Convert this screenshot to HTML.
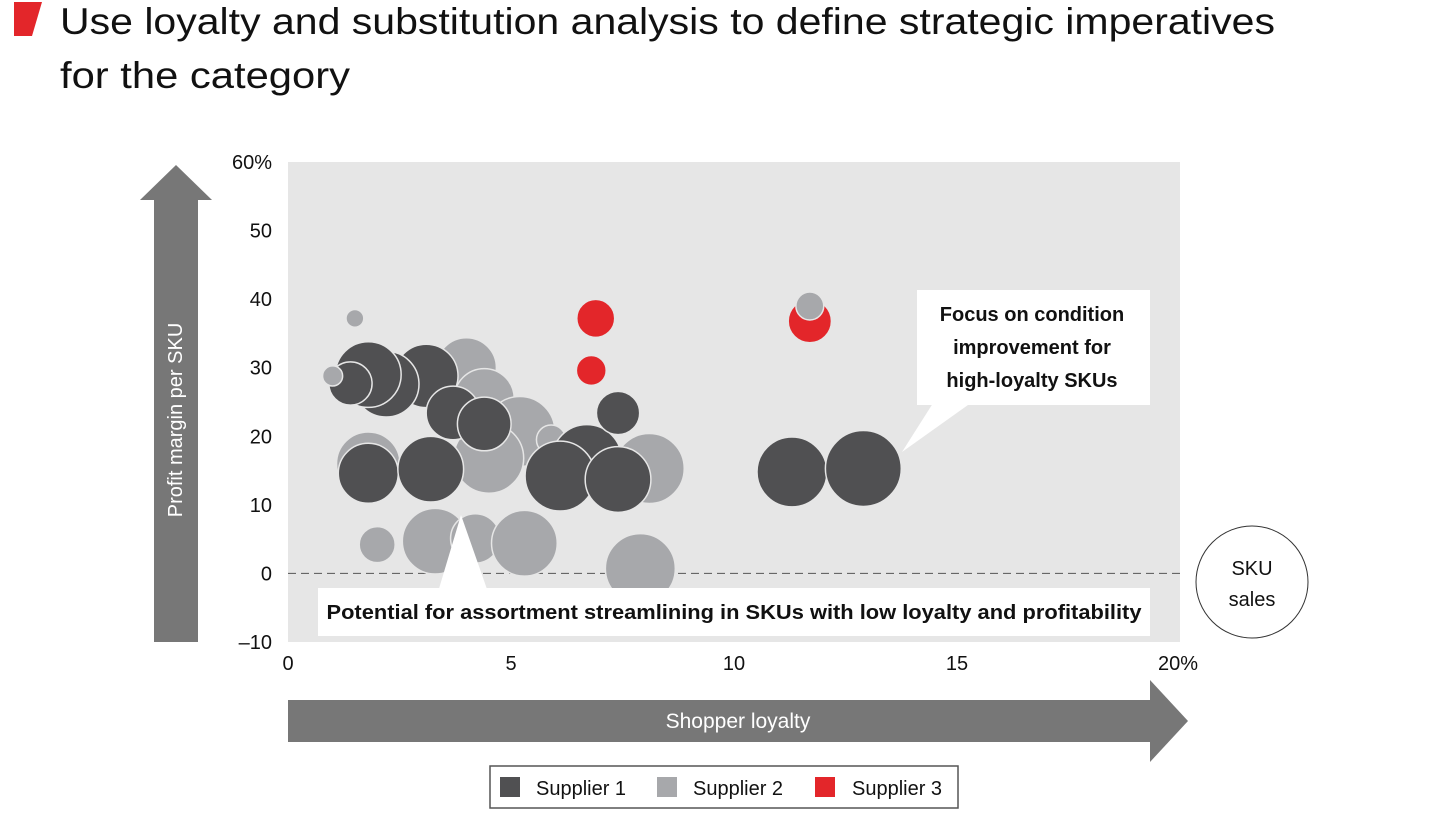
<!DOCTYPE html>
<html><head><meta charset="utf-8"><style>
body{margin:0;background:#fff;width:1440px;height:810px;overflow:hidden;font-family:"Liberation Sans",sans-serif}
</style></head><body>
<svg id="chart" width="1440" height="810" viewBox="0 0 1440 810" xmlns="http://www.w3.org/2000/svg">
<polygon points="14,2 42,2 32,36 14,36" fill="#e3262a"/>
<text x="60" y="34" font-size="37" fill="#111" textLength="1215" lengthAdjust="spacingAndGlyphs">Use loyalty and substitution analysis to define strategic imperatives</text>
<text x="60" y="88" font-size="37" fill="#111" textLength="290" lengthAdjust="spacingAndGlyphs">for the category</text>
<rect x="288" y="162" width="892" height="480" fill="#e6e6e6"/>
<g id="yticks"></g>
<g id="xticks"></g>
<line id="zero" x1="288" x2="1180" stroke="#555" stroke-width="1" stroke-dasharray="8,5"/>
<g id="bubbles"></g>
<g>
<polygon points="935,400 975,400 902,452" fill="#fff"/>
<rect x="917" y="290" width="233" height="115" fill="#fff"/>
<text x="1032" y="321" font-size="20" font-weight="bold" text-anchor="middle" fill="#111">Focus on condition</text>
<text x="1032" y="354" font-size="20" font-weight="bold" text-anchor="middle" fill="#111">improvement for</text>
<text x="1032" y="387" font-size="20" font-weight="bold" text-anchor="middle" fill="#111">high-loyalty SKUs</text>
</g>
<g>
<polygon points="438,592 488,592 461,515" fill="#fff"/>
<rect x="318" y="588" width="832" height="48" fill="#fff"/>
<text x="734" y="619" font-size="20" font-weight="bold" text-anchor="middle" fill="#111" textLength="815" lengthAdjust="spacingAndGlyphs">Potential for assortment streamlining in SKUs with low loyalty and profitability</text>
</g>
<g>
<rect x="154" y="198" width="44" height="444" fill="#777"/>
<polygon points="140,200 176,165 212,200" fill="#777"/>
<text transform="translate(182,420) rotate(-90)" font-size="20" fill="#fff" text-anchor="middle">Profit margin per SKU</text>
</g>
<g>
<rect x="288" y="700" width="864" height="42" fill="#777"/>
<polygon points="1150,680 1188,721 1150,762" fill="#777"/>
<text x="738" y="728" font-size="21" fill="#fff" text-anchor="middle">Shopper loyalty</text>
</g>
<g>
<circle cx="1252" cy="582" r="56" fill="#fff" stroke="#333" stroke-width="1"/>
<text x="1252" y="575" font-size="20" text-anchor="middle" fill="#111">SKU</text>
<text x="1252" y="606" font-size="20" text-anchor="middle" fill="#111">sales</text>
</g>
<g>
<rect x="490" y="766" width="468" height="42" fill="#fff" stroke="#555" stroke-width="1.5"/>
<rect x="500" y="777" width="20" height="20" fill="#505052"/>
<text x="536" y="795" font-size="20" fill="#111">Supplier 1</text>
<rect x="657" y="777" width="20" height="20" fill="#a7a8ab"/>
<text x="693" y="795" font-size="20" fill="#111">Supplier 2</text>
<rect x="815" y="777" width="20" height="20" fill="#e3262a"/>
<text x="852" y="795" font-size="20" fill="#111">Supplier 3</text>
</g>
</svg>
<script>
const yTickValues=[60,50,40,30,20,10,0,-10];
const yTickLabels=["60%","50","40","30","20","10","0","\u201310"];
const xTickValues=[0,5,10,15,20];
const xTickLabels=["0","5","10","15","20%"];
const s2Loyalty=[4.0,4.4,5.2,4.5,1.8,8.1,5.9,2.0,3.3,4.2,5.3,7.9,1.5,1.0,11.7];
const s2Margin=[30,25.5,20.7,16.8,16,15.3,19.5,4.2,4.7,5.1,4.4,0.7,37.2,28.8,39];
const s2Sales=[25,25,34,34,28,34,6,9,30,17,30,34,2.2,2.8,5.4];
const s1Loyalty=[3.1,2.2,1.8,1.4,3.7,4.4,1.8,3.2,6.7,6.1,7.4,7.4,11.3,12.9];
const s1Margin=[28.8,27.6,29,27.7,23.4,21.8,14.6,15.2,16.6,14.2,13.7,23.4,14.8,15.3];
const s1Sales=[28,30,30,13,20,20,25,30,34,34,30,13,34,40];
const s3Loyalty=[6.9,6.8,11.7];
const s3Margin=[37.2,29.6,36.8];
const s3Sales=[10,6.2,13];
const NS='http://www.w3.org/2000/svg';
const X=v=>288+v*44.6;
const Y=v=>162+(60-v)*6.857;
const R=s=>6*Math.sqrt(s);
function mk(t,a){const e=document.createElementNS(NS,t);for(const k in a)e.setAttribute(k,a[k]);return e;}
const yt=document.getElementById('yticks');
yTickValues.forEach((v,i)=>{const t=mk('text',{x:272,y:Y(v)+7,'font-size':20,'text-anchor':'end',fill:'#111'});


t.textContent=yTickLabels[i];yt.appendChild(t);});
const xt=document.getElementById('xticks');
xTickValues.forEach((v,i)=>{const t=mk('text',{x:X(v)+(i===4?-2:0),y:670,'font-size':20,'text-anchor':'middle',fill:'#111'});


t.textContent=xTickLabels[i];xt.appendChild(t);});
const z=document.getElementById('zero');z.setAttribute('y1',Y(0));z.setAttribute('y2',Y(0));
const g=document.getElementById('bubbles');
function draw(lx,my,sz,fill,name){lx.forEach((v,i)=>{const c=mk('circle',{cx:X(v),cy:Y(my[i]),r:R(sz[i]),fill:fill,stroke:'#e6e6e6','stroke-width':1.5});


g.appendChild(c);});}
draw(s2Loyalty.slice(0,12),s2Margin.slice(0,12),s2Sales.slice(0,12),'#a7a8ab','bubble-supplier-2');
draw(s1Loyalty,s1Margin,s1Sales,'#505052','bubble-supplier-1');
draw(s3Loyalty,s3Margin,s3Sales,'#e3262a','bubble-supplier-3');
draw(s2Loyalty.slice(12),s2Margin.slice(12),s2Sales.slice(12),'#a7a8ab','bubble-supplier-2');
</script>
</body></html>
